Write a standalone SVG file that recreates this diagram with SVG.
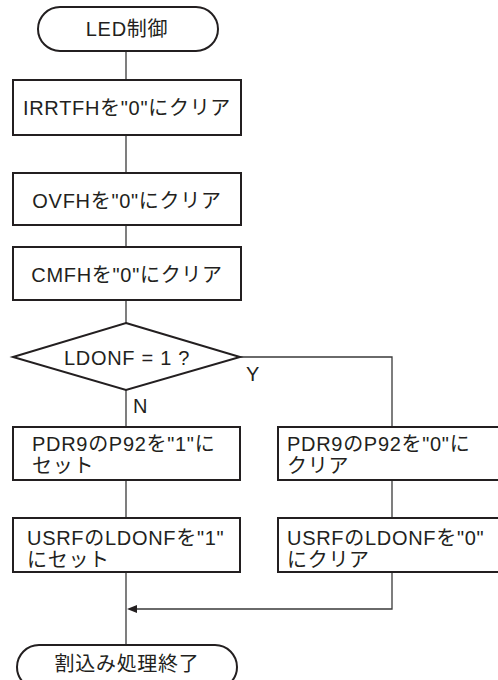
<svg xmlns="http://www.w3.org/2000/svg" width="498" height="680" viewBox="0 0 498 680">
  <style>
    .shape { fill: #ffffff; stroke: #231f20; stroke-width: 2; }
    .line { fill: none; stroke: #3a3a3a; stroke-width: 1.3; }
    text { font-family: "Liberation Sans", Arial, "Noto Sans CJK JP", sans-serif; font-size: 20px; letter-spacing: 0.7px; fill: #231f20; }
    .c { text-anchor: middle; }
  </style>
  <defs>
    <marker id="arrow" viewBox="0 0 10 8" refX="0" refY="4" markerWidth="10" markerHeight="8" markerUnits="userSpaceOnUse" orient="auto-start-reverse">
      <path d="M0,0 L10,4 L0,8 Z" fill="#231f20"/>
    </marker>
  </defs>

  <!-- connectors -->
  <g id="connectors">
    <line class="line" x1="126" y1="51" x2="126" y2="80"/>
    <line class="line" x1="126" y1="135" x2="126" y2="173"/>
    <line class="line" x1="126" y1="225" x2="126" y2="247"/>
    <line class="line" x1="126" y1="300" x2="126" y2="323"/>
    <line class="line" x1="126" y1="390" x2="126" y2="427"/>
    <polyline class="line" points="240,357 392,357 392,427"/>
    <line class="line" x1="126" y1="480" x2="126" y2="518"/>
    <line class="line" x1="392" y1="480" x2="392" y2="518"/>
    <line class="line" x1="126" y1="572" x2="126" y2="645"/>
    <polyline class="line" points="392,572 392,609 137,609" marker-end="url(#arrow)"/>
    <text x="246" y="381">Y</text>
    <text x="133" y="413">N</text>
  </g>

  <g id="start">
    <rect class="shape" x="38" y="7" width="180" height="44" rx="22"/>
    <text class="c" x="127" y="36">LED制御</text>
  </g>

  <g id="clear-irrtfh">
    <rect class="shape" x="13" y="80" width="228" height="55"/>
    <text class="c" x="127" y="115">IRRTFHを"0"にクリア</text>
  </g>

  <g id="clear-ovfh">
    <rect class="shape" x="13" y="173" width="228" height="52"/>
    <text class="c" x="127" y="208">OVFHを"0"にクリア</text>
  </g>

  <g id="clear-cmfh">
    <rect class="shape" x="13" y="247" width="228" height="53"/>
    <text class="c" x="127" y="282">CMFHを"0"にクリア</text>
  </g>

  <g id="check-ldonf">
    <polygon class="shape" points="126,323 240,357 126,390 13,357"/>
    <text class="c" x="127" y="365">LDONF = 1 ?</text>
  </g>

  <g id="set-p92">
    <rect class="shape" x="13" y="427" width="227" height="53"/>
    <text x="32" y="451">PDR9のP92を"1"に</text>
    <text x="32" y="473">セット</text>
  </g>

  <g id="clear-p92">
    <rect class="shape" x="278" y="427" width="240" height="53"/>
    <text x="287" y="451">PDR9のP92を"0"に</text>
    <text x="287" y="473">クリア</text>
  </g>

  <g id="set-ldonf">
    <rect class="shape" x="13" y="518" width="227" height="54"/>
    <text x="27" y="545">USRFのLDONFを"1"</text>
    <text x="27" y="567">にセット</text>
  </g>

  <g id="clear-ldonf">
    <rect class="shape" x="278" y="518" width="240" height="54"/>
    <text x="287" y="545">USRFのLDONFを"0"</text>
    <text x="287" y="567">にクリア</text>
  </g>

  <g id="end">
    <rect class="shape" x="17" y="645" width="220" height="44" rx="22"/>
    <text class="c" x="127" y="671">割込み処理終了</text>
  </g>
</svg>
